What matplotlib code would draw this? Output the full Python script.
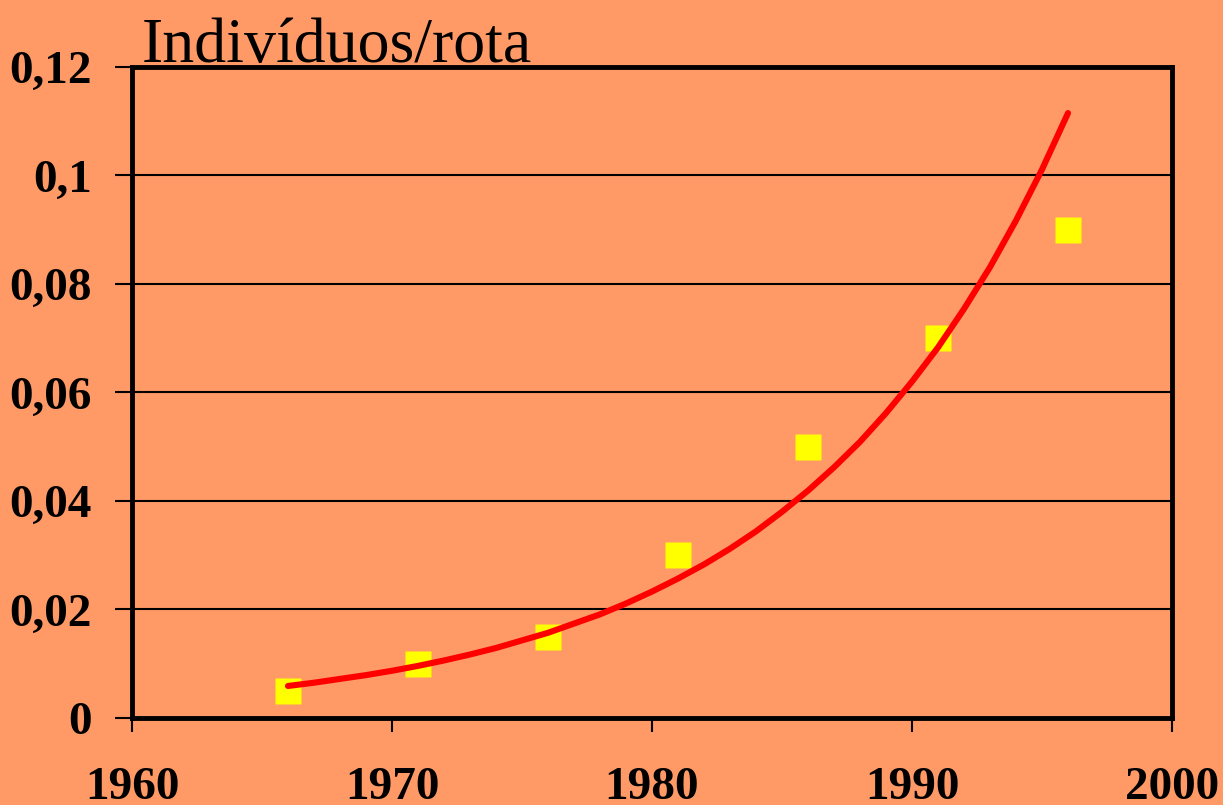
import matplotlib
matplotlib.use('Agg')
import matplotlib.pyplot as plt

# observed counts per survey year
years = [1966, 1971, 1976, 1981, 1986, 1991, 1996]
individuals = [0.005, 0.01, 0.015, 0.03, 0.05, 0.07, 0.09]

# exponential trend, read year by year
trend_years = list(range(1966, 1997))
trend_values = [0.0059, 0.0065, 0.0072, 0.0079, 0.0087, 0.0096, 0.0106, 0.0117,
                0.0129, 0.0143, 0.0157, 0.0174, 0.0191, 0.0211, 0.0233, 0.0257,
                0.0283, 0.0312, 0.0344, 0.0380, 0.0419, 0.0462, 0.0509, 0.0562,
                0.0620, 0.0683, 0.0754, 0.0831, 0.0917, 0.1011, 0.1115]

y_ticks = [0, 0.02, 0.04, 0.06, 0.08, 0.1, 0.12]
y_tick_labels = ['0', '0,02', '0,04', '0,06', '0,08', '0,1', '0,12']
x_ticks = [1960, 1970, 1980, 1990, 2000]

bg = '#FF9966'
serif = ['Liberation Serif', 'DejaVu Serif']

fig = plt.figure(figsize=(12.23, 8.05), dpi=100, facecolor=bg)
ax = fig.add_axes([0.1079, 0.1081, 0.8504, 0.8087], facecolor=bg)

ax.plot(trend_years, trend_values, color='#FF0000', lw=4.4,
        solid_capstyle='round', zorder=3)
ax.plot(years, individuals, ls='none', marker='s', ms=18.5,
        mfc='#FFFF00', mec='none', zorder=2)

ax.set_xlim(1960, 2000)
ax.set_ylim(0, 0.12)
ax.set_yticks(y_ticks)
ax.set_yticklabels(y_tick_labels)
ax.set_xticks(x_ticks)
ax.set_xticklabels([str(x) for x in x_ticks])

ax.yaxis.grid(True, color='black', lw=1.5)
ax.set_axisbelow(True)

for s in ax.spines.values():
    s.set_linewidth(3.5)
    s.set_color('black')

ax.tick_params(axis='y', length=12, width=1.5, pad=17, direction='out')
ax.tick_params(axis='x', length=10, width=1.5, pad=25, direction='out')
for lab in ax.get_xticklabels() + ax.get_yticklabels():
    lab.set_family(serif)
    lab.set_fontweight('bold')
    lab.set_fontsize(34)

fig.text(0.116, 0.923, 'Indivíduos/rota', family=serif, fontsize=46,
         ha='left', va='baseline')

fig.savefig('out.png', dpi=100, facecolor=bg)
